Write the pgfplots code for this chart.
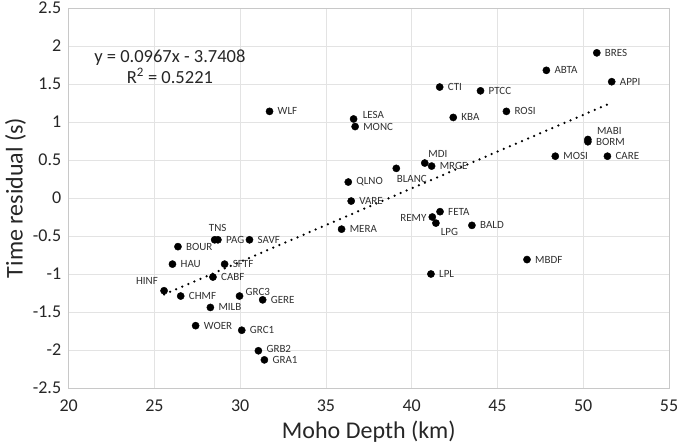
\documentclass[border=0pt]{standalone}
\usepackage{pgfplots}
\pgfplotsset{compat=1.18}
\usepackage{fontspec}
\setmainfont{Carlito}

\definecolor{gridc}{HTML}{E3E3E3}
\definecolor{axc}{HTML}{C8C8C8}
\definecolor{txt}{HTML}{262626}
\definecolor{lbl}{HTML}{303030}

\pgfplotsset{
  stn/.style n args={3}{only marks, mark=*, mark size=3.6pt,
    mark options={fill=black, draw=black},
    point meta=explicit symbolic, nodes near coords,
    nodes near coords style={anchor=#1, xshift=#2, yshift=#3, inner sep=0pt,
      font=\fontsize{11}{12}\selectfont, text=lbl}},
}

\begin{document}
\begin{tikzpicture}
\begin{axis}[
  scale only axis, width=600.3pt, height=380pt,
  xmin=20, xmax=55, ymin=-2.5, ymax=2.5,
  xtick={20,25,30,35,40,45,50,55},
  ytick={-2.5,-2,-1.5,-1,-0.5,0,0.5,1,1.5,2,2.5},
  yticklabels={-2.5,-2,-1.5,-1,-0.5,0,0.5,1,1.5,2,2.5},
  grid=major, major grid style={draw=gridc, line width=0.7pt},
  axis line style={draw=axc, line width=0.8pt},
  tick style={draw=none},
  /pgf/number format/assume math mode=true,
  ticklabel style={font=\fontsize{18}{20}\selectfont, text=txt},
  xticklabel style={yshift=-8pt},
  yticklabel style={xshift=-4pt},
  xlabel={Moho Depth (km)}, ylabel={Time residual (s)},
  label style={font=\fontsize{24}{26}\selectfont, text=txt},
  xlabel style={yshift=-3pt},
  clip=false,
]
% linear trend line: y = 0.0967x - 3.7408
\addplot[black, line width=2.5pt, line cap=round, dash pattern=on 0pt off 6.6pt]
  coordinates {(25.56,-1.2693) (51.66,1.2547)};
% stations, label to the right
\addplot[stn={180}{8pt}{0pt}] coordinates {
(50.79,1.91) [BRES]
(47.85,1.68) [ABTA]
(51.66,1.53) [APPI]
(41.63,1.46) [CTI]
(44.01,1.41) [PTCC]
(45.52,1.14) [ROSI]
(31.71,1.14) [WLF]
(42.42,1.06) [KBA]
(36.70,0.94) [MONC]
(50.27,0.74) [BORM]
(48.37,0.55) [MOSI]
(51.41,0.55) [CARE]
(41.16,0.42) [MRGE]
(36.30,0.21) [QLNO]
(36.47,-0.04) [VARE]
(41.65,-0.18) [FETA]
(43.51,-0.36) [BALD]
(35.91,-0.41) [MERA]
(28.70,-0.55) [PAG]
(30.54,-0.55) [SAVF]
(26.37,-0.64) [BOUR]
(46.72,-0.81) [MBDF]
(26.05,-0.87) [HAU]
(29.09,-0.87) [SFTF]
(41.12,-1.00) [LPL]
(28.41,-1.04) [CABF]
(26.53,-1.29) [CHMF]
(31.31,-1.34) [GERE]
(28.26,-1.44) [MILB]
(27.40,-1.68) [WOER]
(30.09,-1.74) [GRC1]
(31.41,-2.13) [GRA1]
};
% stations with labels placed otherwise
\addplot[stn={180}{9pt}{3.5pt}] coordinates {(36.61,1.04) [LESA]};
\addplot[stn={180}{9pt}{9pt}] coordinates {(50.27,0.77) [MABI]};
\addplot[stn={180}{3.5pt}{8.7pt}] coordinates {(40.76,0.46) [MDI]};
\addplot[stn={180}{0.4pt}{-10.4pt}] coordinates {(39.10,0.39) [BLANC]};
\addplot[stn={0}{-5.7pt}{-1pt}] coordinates {(41.20,-0.25) [REMY]};
\addplot[stn={180}{4.7pt}{-9pt}] coordinates {(41.41,-0.33) [LPG]};
\addplot[stn={center}{3pt}{12pt}] coordinates {(28.51,-0.55) [TNS]};
\addplot[stn={0}{-6pt}{9.3pt}] coordinates {(25.56,-1.22) [HINF]};
\addplot[stn={180}{6pt}{4.3pt}] coordinates {(29.96,-1.29) [GRC3]};
\addplot[stn={180}{8pt}{2pt}] coordinates {(31.06,-2.01) [GRB2]};
\node[align=center, font=\fontsize{18.5}{21}\selectfont, text=txt] at (axis cs:25.9,1.73)
  {y = 0.0967x - 3.7408\\R\textsuperscript{2} = 0.5221};
\end{axis}
\pgfresetboundingbox
\path[use as bounding box] ([xshift=-68.7pt,yshift=-59pt]current axis.south west)
  rectangle ([xshift=16pt,yshift=8pt]current axis.north east);
\end{tikzpicture}
\end{document}
